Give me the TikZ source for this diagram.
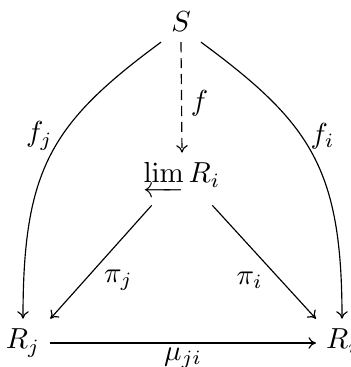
\documentclass[tikz,border=0pt]{standalone}
\usepackage{amsmath,amssymb}
\usepackage{tikz}
\usetikzlibrary{arrows.meta,positioning,calc}
\tikzset{
  obj/.style={inner sep=3.33pt,font=\normalsize},
  map/.style={-{To[length=2.6pt,width=4pt]},thin,draw=black},
  dashmap/.style={map,dash pattern=on 3.5pt off 2pt},
  maplabel/.style={inner sep=3pt,font=\normalsize}
}
\begin{document}
\begin{tikzpicture}[x=0.345pt,y=-0.345pt]
  \useasboundingbox (0,0) rectangle (351,367);
  \node[obj] (S) at (181,22) {$S$};
  \node[obj,anchor=base] (lim) at (182,183) {$\varprojlim R_i$};
  \node[obj] (Rj) at (23,343) {$R_j$};
  \node[obj] (Ri) at (342,343) {$R_i\vphantom{R_j}$};
  \draw[dashmap] (S.south)--node[maplabel,pos=0.55,right]{$f$}(lim.north);
  \draw[map] (S.south west) .. controls +(-110,81) and +(0,-150) .. node[maplabel,pos=0.42,left]{$f_j$}(Rj.north);
  \draw[map] (S.south east) .. controls +(110,81) and +(0,-150) .. node[maplabel,pos=0.42,right]{$f_i$}(Ri.north);
  \draw[map] (lim.221)--node[maplabel,pos=0.66,right=3.5pt]{$\pi_j$}(Rj.north east);
  \draw[map] (lim.-41)--node[maplabel,pos=0.66,left=3pt]{$\pi_i$}(Ri.north west);
  \draw[map] (Rj.east)--node[maplabel,below,inner sep=1.5pt]{$\mu_{ji}$}(Ri.west);
\end{tikzpicture}
\end{document}
